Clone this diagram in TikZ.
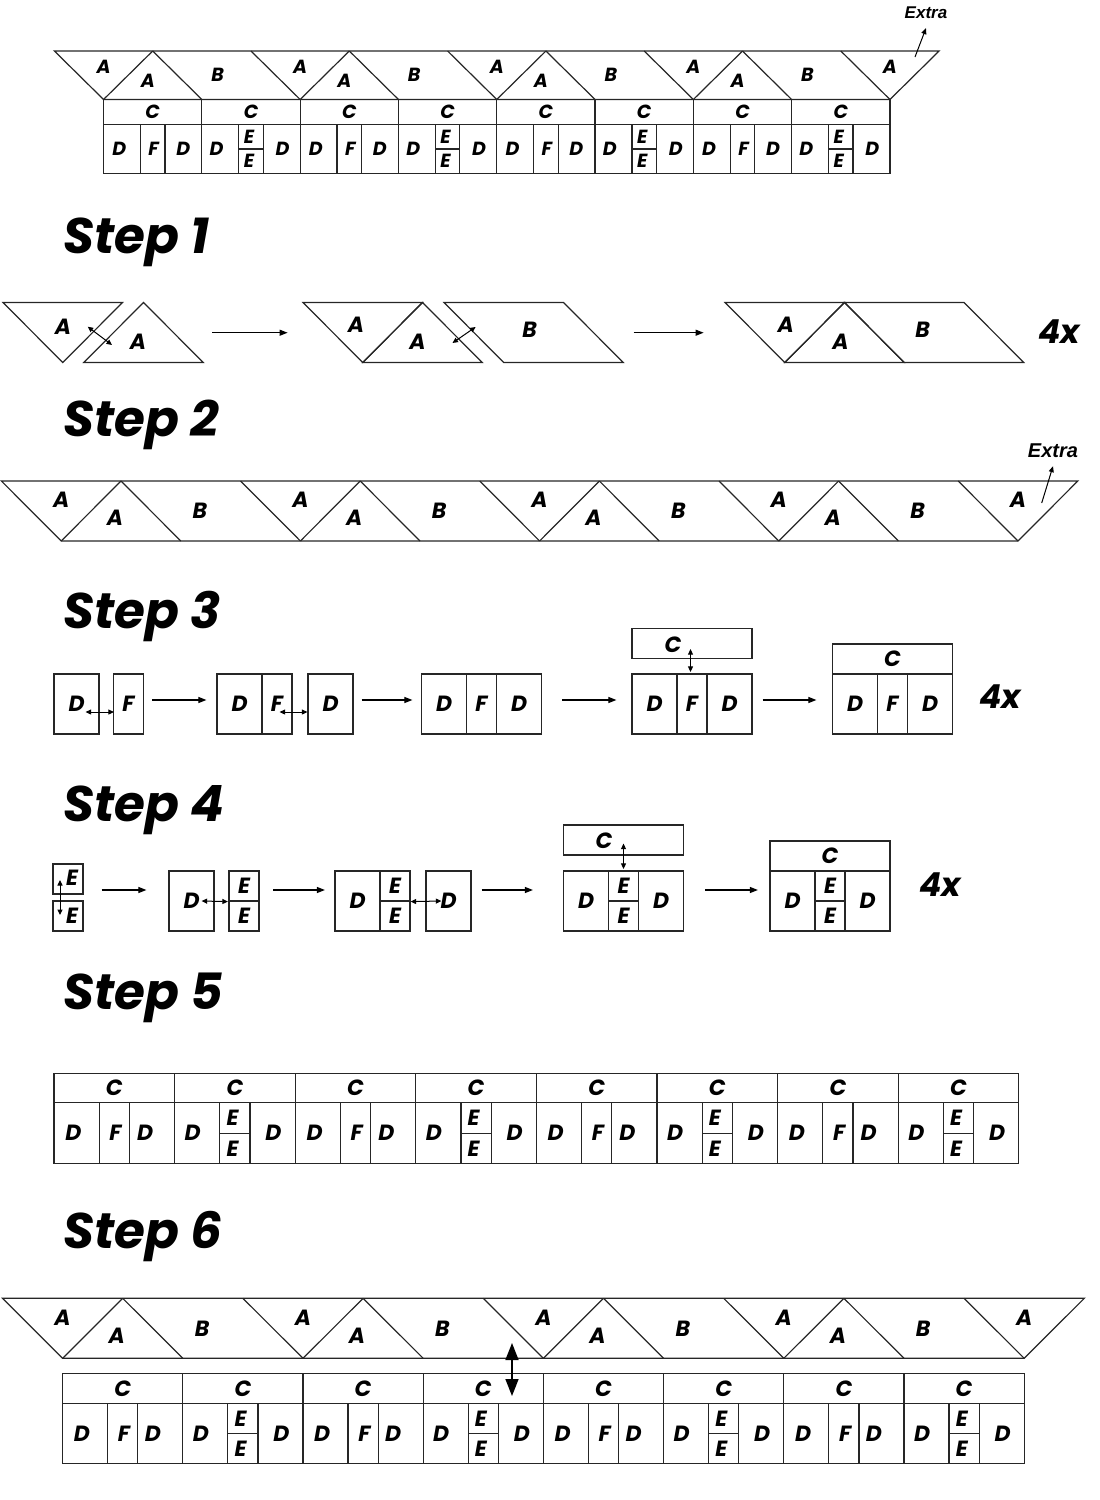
\documentclass[tikz,border=0pt]{standalone}
\usepackage{fontspec}
\setmainfont{Poppins}
\newfontfamily\extrafont{Liberation Sans}
\usetikzlibrary{arrows.meta}

% roof strip of A and B pieces: left x, top y, unit width, height, name
\newcommand{\roofstrip}[5]{%
  \draw[outline] (#1,#2) -- ++(9*#3,0) -- ++(-0.5*#3,#4) -- ({#1+0.5*#3},{#2+#4}) -- cycle;
  \foreach \k in {1,...,8} \draw[outline] ({#1+\k*#3},#2) -- ++(0.5*#3,#4);
  \foreach \k in {1,3,5,7} \draw[outline] ({#1+\k*#3},#2) -- ++(-0.5*#3,#4);
  \foreach \j in {0,...,3} {
    \node[piece] (#5a\j) at ({#1+(2*\j+0.5)*#3},{#2+0.32*#4}) {A};
    \node[piece] (#5v\j) at ({#1+(2*\j+0.95)*#3},{#2+0.62*#4}) {A};
    \node[piece] (#5b\j) at ({#1+(2*\j+1.66)*#3},{#2+0.5*#4}) {B};
  }
  \node[piece] (#5a4) at ({#1+8.5*#3},{#2+0.32*#4}) {A};
}

% row of C over D-F-D / D-E-E-D cells: left x, top y, cell width, C height, D height, name, right D place
\newcommand{\celltable}[7]{%
  \foreach \i in {0,...,7} {
    \pgfmathsetmacro{\xl}{#1+\i*#3}
    \pgfmathsetmacro{\ym}{#2+#4}
    \pgfmathsetmacro{\yb}{#2+#4+#5}
    \draw[outline] (\xl,#2) rectangle ({\xl+#3},\yb);
    \draw[outline] (\xl,\ym) -- ++(#3,0);
    \draw[outline] ({\xl+0.375*#3},\ym) -- ({\xl+0.375*#3},\yb)
                   ({\xl+0.625*#3},\ym) -- ({\xl+0.625*#3},\yb);
    \node[piece] (#6c\i) at ({\xl+0.5*#3},{#2+0.5*#4}) {C};
    \ifodd\i
      \draw[outline] ({\xl+0.375*#3},{\ym+0.5*#5}) -- ++(0.25*#3,0);
      \node[piece] (#6l\i) at ({\xl+0.15*#3},{\ym+0.5*#5}) {D};
      \node[piece] (#6u\i) at ({\xl+0.48*#3},{\ym+0.25*#5}) {E};
      \node[piece] (#6w\i) at ({\xl+0.48*#3},{\ym+0.75*#5}) {E};
      \node[piece] (#6r\i) at ({\xl+0.82*#3},{\ym+0.5*#5}) {D};
    \else
      \node[piece] (#6l\i) at ({\xl+0.16*#3},{\ym+0.5*#5}) {D};
      \node[piece] (#6f\i) at ({\xl+0.51*#3},{\ym+0.5*#5}) {F};
      \node[piece] (#6r\i) at ({\xl+#7*#3},{\ym+0.5*#5}) {D};
    \fi
  }%
}

\begin{document}
\begin{tikzpicture}[x=1pt,y=-1pt,font=\fontsize{22}{22}\selectfont\bfseries\itshape]
% Styles:
\tikzset{outline/.style={draw=black!85, line width=1.2pt}}
\tikzset{piece/.style={inner sep=0pt}}
\tikzset{tile/.style={outline, inner sep=0pt, minimum width=45, minimum height=60}}
\tikzset{stephead/.style={anchor=base west, inner sep=0pt, font=\fontsize{50}{50}\selectfont\bfseries\itshape}}
\tikzset{countlabel/.style={inner sep=0pt, font=\fontsize{33}{33}\selectfont\bfseries\itshape}}
\tikzset{extralabel/.style={inner sep=0pt, font=\extrafont\fontsize{17}{17}\selectfont\bfseries\itshape}}
\tikzset{flow/.style={line width=1.1pt, -{Triangle[length=8pt,width=6pt]}}}
\tikzset{duo/.style={line width=1pt, {Triangle[length=5.5pt,width=5pt]}-{Triangle[length=5.5pt,width=5pt]}}}

\useasboundingbox (0,0) rectangle (1100,1500);

% Top: roof over the row
\begin{scope}[font=\fontsize{19}{19}\selectfont\bfseries\itshape]
\roofstrip{54.4}{51}{98.3}{48.5}{top}
\celltable{103.55}{99.5}{98.3}{25}{49}{tt}{0.81}
\end{scope}
\node[extralabel] (extra1) at (926,13) {Extra};
\coordinate (ex1) at (915,57);
\draw[flow, line width=1pt, -{Triangle[length=6pt,width=5pt]}] (ex1) -- ([yshift=-9pt]extra1.south);

% Step 1:
\node[stephead] (h1) at (63,253) {Step 1};
\draw[outline] (3,302.5) -- (122.5,302.5) -- (62.75,362.5) -- cycle;
\draw[outline] (143.5,302.5) -- (203.25,362.5) -- (83.75,362.5) -- cycle;
\node[piece] (s1a1) at (63,326.7) {A};
\node[piece] (s1a2) at (138,341.7) {A};
\coordinate (s1p) at (87.7,326.7);
\coordinate (s1q) at (112,345);
\draw[duo] (s1p) -- (s1q);

\draw[outline] (303,302.5) -- (422.5,302.5) -- (362.75,362.5) -- cycle;
\draw[outline] (422.5,302.5) -- (482.25,362.5) -- (362.75,362.5) -- cycle;
\draw[outline] (444,302.5) -- (563.5,302.5) -- (623.25,362.5) -- (503.75,362.5) -- cycle;
\node[piece] (s1a3) at (356,325) {A};
\node[piece] (s1a4) at (417.4,341.7) {A};
\node[piece] (s1b1) at (529.6,330) {B};
\coordinate (s1r) at (452.5,343);
\coordinate (s1s) at (475.6,327);
\draw[duo] (s1r) -- (s1s);

\draw[outline] (725,302.5) -- (844.5,302.5) -- (784.75,362.5) -- cycle;
\draw[outline] (844.5,302.5) -- (904.25,362.5) -- (784.75,362.5) -- cycle;
\draw[outline] (844.5,302.5) -- (964,302.5) -- (1023.75,362.5) -- (904.25,362.5) -- cycle;
\node[piece] (s1a5) at (785.7,325) {A};
\node[piece] (s1a6) at (840.4,341.7) {A};
\node[piece] (s1b2) at (922.5,330) {B};

\coordinate (s1m1) at (212,332.7);
\coordinate (s1n1) at (287.6,332.7);
\coordinate (s1m2) at (633.5,332.7);
\coordinate (s1n2) at (703.6,332.7);
\draw[flow] (s1m1) -- (s1n1);
\draw[flow] (s1m2) -- (s1n2);
\node[countlabel] (s1x) at (1059,332) {4x};

% Step 2:
\node[stephead] (h2) at (63,436) {Step 2};
\roofstrip{1.4}{481}{119.6}{60}{mid}
\node[extralabel, font=\extrafont\fontsize{20}{20}\selectfont\bfseries\itshape] (extra2) at (1053,451) {Extra};
\coordinate (ex2) at (1041.7,503);
\draw[flow, line width=1pt, -{Triangle[length=6pt,width=5pt]}] (ex2) -- ([yshift=-8pt]extra2.south);

% Step 3:
\node[stephead] (h3) at (63,628) {Step 3};
\node[tile] (d31) at (76.5,704) {D};
\node[tile, minimum width=30] (f31) at (128.5,704) {F};
\draw[duo] ([xshift=-14pt,yshift=-8pt]d31.east) -- ([xshift=1pt,yshift=-8pt]f31.west);

\node[tile] (d32) at (239.5,704) {D};
\node[tile, minimum width=30] (f32) at (277,704) {F};
\node[tile] (d33) at (330.5,704) {D};
\draw[duo] ([xshift=-13pt,yshift=-8pt]f32.east) -- ([yshift=-8pt]d33.west);

\node[tile] (d34) at (444,704) {D};
\node[tile, minimum width=30] (f33) at (481.5,704) {F};
\node[tile] (d35) at (519,704) {D};

\node[tile, minimum width=120, minimum height=30] (c31) at (692,643.5) {};
\node[piece] (c31t) at (673,645) {C};
\node[tile] (d36) at (654.5,704) {D};
\node[tile, minimum width=30] (f34) at (692,704) {F};
\node[tile] (d37) at (729.5,704) {D};
\draw[duo] ([xshift=-1.5pt,yshift=10pt]c31.south) -- ([xshift=-1.5pt,yshift=1.5pt]f34.north);

\node[tile, minimum width=120, minimum height=30] (c32) at (892.5,659) {C};
\node[tile] (d38) at (855,704) {D};
\node[tile, minimum width=30] (f35) at (892.5,704) {F};
\node[tile] (d39) at (930,704) {D};
\node[countlabel] (s3x) at (1000,697) {4x};

\draw[flow] ([xshift=8pt,yshift=4pt]f31.east) -- ([xshift=-10pt,yshift=4pt]d32.west);
\draw[flow] ([xshift=8pt,yshift=4pt]d33.east) -- ([xshift=-8.5pt,yshift=4pt]d34.west);
\draw[flow] ([xshift=20pt,yshift=4pt]d35.east) -- ([xshift=-15pt,yshift=4pt]d36.west);
\draw[flow] ([xshift=10pt,yshift=4pt]d37.east) -- ([xshift=-15.5pt,yshift=4pt]d38.west);

% Step 4:
\node[stephead] (h4) at (63,821) {Step 4};
\node[tile, minimum width=30, minimum height=30] (e41) at (68,879) {};
\node[tile, minimum width=30, minimum height=30] (e42) at (68,916) {};
\node[piece] (e41t) at (72,878) {E};
\node[piece] (e42t) at (72,916) {E};
\draw[duo] ([xshift=-8pt,yshift=-1pt]e41.center) -- ([xshift=-8pt,yshift=1pt]e42.center);

\node[tile] (d41) at (191.5,901) {D};
\node[tile, minimum width=30, minimum height=30] (e43) at (244,886) {E};
\node[tile, minimum width=30, minimum height=30] (e44) at (244,916) {E};
\draw[duo] ([xshift=-13pt]d41.east) -- ([xshift=-0.5pt]e43.south west);

\node[tile] (d42) at (357.5,901) {D};
\node[tile, minimum width=30, minimum height=30] (e45) at (395,886) {E};
\node[tile, minimum width=30, minimum height=30] (e46) at (395,916) {E};
\node[tile] (d43) at (448.5,901) {D};
\draw[duo] (e45.south east) -- ([xshift=16pt]d43.west);

\node[tile, minimum width=120, minimum height=30] (c41) at (623.5,840) {};
\node[piece] (c41t) at (604,841) {C};
\node[tile] (d44) at (586,901) {D};
\node[tile, minimum width=30, minimum height=30] (e47) at (623.5,886) {E};
\node[tile, minimum width=30, minimum height=30] (e48) at (623.5,916) {E};
\node[tile] (d45) at (661,901) {D};
\draw[duo] ([yshift=12pt]c41.south) -- ([yshift=1.5pt]e47.north);

\node[tile, minimum width=120, minimum height=30] (c42) at (830,856) {C};
\node[tile] (d46) at (792.5,901) {D};
\node[tile, minimum width=30, minimum height=30] (e49) at (830,886) {E};
\node[tile, minimum width=30, minimum height=30] (e50) at (830,916) {E};
\node[tile] (d47) at (867.5,901) {D};
\node[countlabel] (s4x) at (940,885) {4x};

\draw[flow] ([xshift=18pt,yshift=-11pt]e41.east) -- ([xshift=-22pt,yshift=11pt]d41.west);
\draw[flow] ([xshift=13.5pt,yshift=-4pt]e43.east) -- ([xshift=-9.5pt,yshift=11pt]d42.west);
\draw[flow] ([xshift=10pt,yshift=11pt]d43.east) -- ([xshift=-30pt,yshift=11pt]d44.west);
\draw[flow] ([xshift=21pt,yshift=11pt]d45.east) -- ([xshift=-11.5pt,yshift=11pt]d46.west);

% Step 5:
\node[stephead] (h5) at (63,1009) {Step 5};
\celltable{54}{1073.3}{120.6}{29.4}{61}{ft}{0.755}

% Step 6:
\node[stephead] (h6) at (63,1248) {Step 6};
\roofstrip{2.5}{1298.3}{120.2}{60}{low}
\celltable{62.6}{1373.3}{120.2}{30}{60}{bt}{0.75}
\coordinate (lift1) at (512,1343);
\coordinate (lift2) at (512,1396);
\draw[line width=1.6pt, {Triangle[length=17pt,width=13pt]}-{Triangle[length=17pt,width=13pt]}] (lift1) -- (lift2);
\end{tikzpicture}
\end{document}
